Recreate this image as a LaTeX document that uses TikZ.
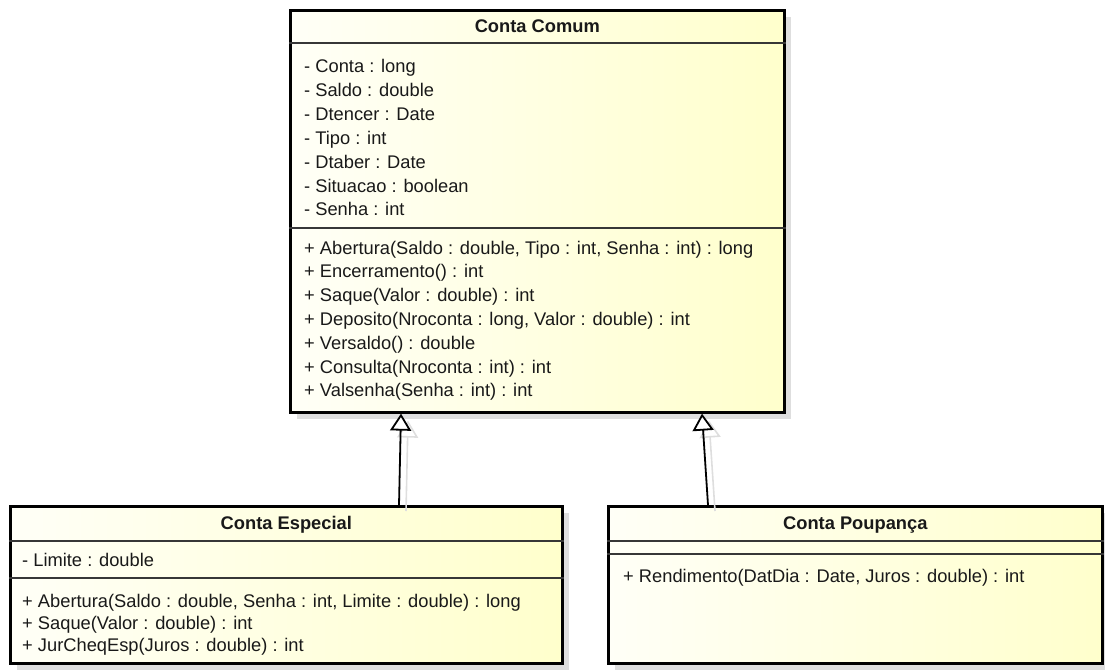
\documentclass[tikz,border=0pt]{standalone}
\usepackage{fontspec}
\setmainfont{Liberation Sans}
\usetikzlibrary{shadows,calc,arrows.meta}

\definecolor{fillL}{RGB}{255,255,247}
\definecolor{fillR}{RGB}{255,255,204}
\definecolor{shadowgrey}{RGB}{222,222,222}
\definecolor{divgrey}{RGB}{55,55,55}
\definecolor{txt}{RGB}{25,25,25}

\begin{document}
\begin{tikzpicture}[x=1pt,y=-1pt,
  classbox/.style={draw=black, line width=2.6pt, left color=fillL, right color=fillR,
    anchor=north west, inner sep=0pt,
    drop shadow={shadow xshift=7pt, shadow yshift=-7pt, fill=shadowgrey, opacity=1}},
  divider/.style={draw=divgrey, line width=2pt},
  classtitle/.style={anchor=base, inner sep=0pt, text=txt,
    font=\bfseries\fontsize{18.3}{22}\selectfont},
  member/.style={anchor=base west, inner sep=0pt, text=txt,
    font=\fontsize{18.3}{22}\selectfont},
  gen/.style={draw=black, line width=1.8pt,
    -{Triangle[length=17pt, width=21pt, fill=white]}},
  genshadow/.style={draw=shadowgrey, line width=1.6pt,
    -{Triangle[length=17pt, width=21pt, fill=white]}}
]
\useasboundingbox (0,0) rectangle (1105,669);

% class boxes
\node[classbox, minimum width=494pt, minimum height=402pt] (cc) at (289,9) {};
\node[classbox, minimum width=552pt, minimum height=157pt] (ce) at (9,505) {};
\node[classbox, minimum width=494pt, minimum height=157pt] (cp) at (607,505) {};

% compartment separators
\draw[divider] ($(cc.north west)+(0,34)$) -- ($(cc.north east)+(0,34)$);
\draw[divider] ($(cc.north west)+(0,219)$) -- ($(cc.north east)+(0,219)$);
\draw[divider] ($(ce.north west)+(0,36)$) -- ($(ce.north east)+(0,36)$);
\draw[divider] ($(ce.north west)+(0,73)$) -- ($(ce.north east)+(0,73)$);
\draw[divider] ($(cp.north west)+(0,36)$) -- ($(cp.north east)+(0,36)$);
\draw[divider] ($(cp.north west)+(0,49)$) -- ($(cp.north east)+(0,49)$);

% class names
\node[classtitle] (cct) at ($(cc.north)+(0,24)$) {Conta Comum};
\node[classtitle] (cet) at ($(ce.north)+(0,24.5)$) {Conta Especial};
\node[classtitle] (cpt) at ($(cp.north)+(0,24.5)$) {Conta Poupança};

% Conta Comum: attributes and operations
\foreach \t [count=\i from 0] in {- Conta : long, - Saldo : double, - Dtencer : Date,
    - Tipo : int, - Dtaber : Date, - Situacao : boolean, - Senha : int}
  \node[member] (cca\i) at ($(cc.north west)+(15,64+23.8*\i)$) {\t};
\foreach \t [count=\i from 0] in {
    {+ Abertura(Saldo : double, Tipo : int, Senha : int) : long},
    + Encerramento() : int,
    + Saque(Valor : double) : int,
    {+ Deposito(Nroconta : long, Valor : double) : int},
    + Versaldo() : double,
    + Consulta(Nroconta : int) : int,
    + Valsenha(Senha : int) : int}
  \node[member] (ccm\i) at ($(cc.north west)+(15,245+23.8*\i)$) {\t};

% Conta Especial
\node[member] (cea0) at ($(ce.north west)+(13,61)$) {- Limite : double};
\foreach \t [count=\i from 0] in {
    {+ Abertura(Saldo : double, Senha : int, Limite : double) : long},
    + Saque(Valor : double) : int,
    + JurCheqEsp(Juros : double) : int}
  \node[member] (cem\i) at ($(ce.north west)+(13,102+22*\i)$) {\t};

% Conta Poupança
\node[member] (cpm0) at ($(cp.north west)+(16,77)$) {+ Rendimento(DatDia : Date, Juros : double) : int};

% generalisations (with their faint shadows)
\coordinate (g1s) at ($(ce.north west)+(390,0)$);
\coordinate (g1t) at ($(cc.south west)+(112,0)$);
\coordinate (g2s) at ($(cp.north west)+(101,0)$);
\coordinate (g2t) at ($(cc.south west)+(413,0)$);
\draw[genshadow] ($(g1s)+(7,6)$) -- ($(g1t)+(7,7)$);
\draw[genshadow] ($(g2s)+(7,6)$) -- ($(g2t)+(7,7)$);
\draw[gen] (g1s) -- (g1t);
\draw[gen] (g2s) -- (g2t);
\end{tikzpicture}
\end{document}
